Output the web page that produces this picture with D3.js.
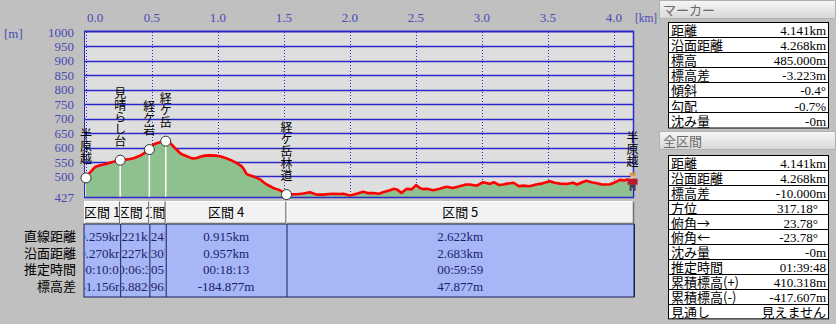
<!DOCTYPE html>
<html>
<head>
<meta charset="utf-8">
<script src="https://cdn.jsdelivr.net/npm/d3@7"></script>
<style>
  html, body { margin: 0; padding: 0; background: #c0c0c0; }
  svg { display: block; }
</style>
</head>
<body>
<div id="svg"></div>
<script>
// profile (km, m)
const distKm = [0.000, 0.02, 0.04, 0.07, 0.10, 0.15, 0.20, 0.259, 0.30, 0.333, 0.36, 0.384, 0.41, 0.434, 0.477,
    0.51, 0.53, 0.56, 0.604, 0.636, 0.655, 0.674, 0.712, 0.74, 0.763, 0.79, 0.813, 0.84, 0.864, 0.90, 0.94, 0.98,
    1.015, 1.05, 1.09, 1.14, 1.18, 1.20, 1.217, 1.24, 1.267, 1.29, 1.318, 1.345, 1.369, 1.395, 1.419, 1.445, 1.47,
    1.50, 1.519, 1.55, 1.596, 1.646, 1.697, 1.748, 1.798, 1.84, 1.874, 1.92, 1.95, 2.00, 2.05, 2.10, 2.14, 2.177,
    2.22, 2.25, 2.303, 2.33, 2.354, 2.39, 2.43, 2.467, 2.50, 2.53, 2.555, 2.58, 2.63, 2.68, 2.73, 2.78, 2.83, 2.88,
    2.91, 2.96, 3.01, 3.06, 3.09, 3.13, 3.16, 3.19, 3.24, 3.28, 3.31, 3.36, 3.41, 3.46, 3.515, 3.55, 3.59, 3.64,
    3.69, 3.72, 3.76, 3.79, 3.83, 3.87, 3.91, 3.94, 3.97, 4.00, 4.045, 4.08, 4.10, 4.12, 4.141];
const elevM = [495, 508, 518, 533, 538, 543, 550, 556, 558, 560, 563, 567, 572, 578, 593,
    610, 614, 618, 622, 616, 607, 598, 581, 574, 570, 565, 562, 564, 568, 572, 573, 572,
    570, 565, 558, 547, 535, 522, 508, 504, 500, 496, 490, 480, 472, 466, 460, 456, 452,
    444, 437, 438, 438, 441, 445, 437, 437, 439, 440, 439, 440, 434, 440, 447, 442, 442,
    440, 445, 452, 457, 455, 443, 457, 455, 470, 460, 456, 457, 452, 457, 464, 460, 466, 472,
    472, 468, 480, 474, 480, 470, 472, 475, 478, 466, 468, 466, 472, 476, 483, 478, 475, 474,
    478, 472, 480, 485, 480, 476, 472, 472, 473, 478, 488, 486, 489, 487, 485];

// markers
const markerNames = ["半原越", "見晴らし台", "経ケ岩", "経ケ岳", "経ケ岳林道", "半原越"];
const markerKm = [0, 0.259, 0.480, 0.604, 1.519, 4.141];
const markerElev = [495, 556.156, 593.038, 622.0, 437.123, 485.0];

// axes
const xTicks = [0, 0.5, 1.0, 1.5, 2.0, 2.5, 3.0, 3.5, 4.0];
const yTicks = [1000, 950, 900, 850, 800, 750, 700, 650, 600, 550, 500, 427];

// section table
const sectionNames = ["区間 1", "区間 2", "区間 3", "区間 4", "区間 5"];
const rowLabels = ["直線距離", "沿面距離", "推定時間", "標高差"];
const straightDist = ["0.259km", "0.221km", "0.124km", "0.915km", "2.622km"];
const surfaceDist = ["0.270km", "0.227km", "0.130km", "0.957km", "2.683km"];
const estTime = ["00:10:02", "00:06:30", "00:05:04", "00:18:13", "00:59:59"];
const elevDiff = ["61.156m", "36.882m", "28.962m", "-184.877m", "47.877m"];

// side panels
const markerLabels = ["距離", "沿面距離", "標高", "標高差", "傾斜", "勾配", "沈み量"];
const markerValues = ["4.141km", "4.268km", "485.000m", "-3.223m", "-0.4°", "-0.7%", "-0m"];
const totalLabels = ["距離", "沿面距離", "標高差", "方位", "俯角→", "俯角←", "沈み量", "推定時間", "累積標高(+)", "累積標高(-)", "見通し"];
const totalValues = ["4.141km", "4.268km", "-10.000m", "317.18°", "23.78°", "-23.78°", "-0m", "01:39:48", "410.318m", "-417.607m", "見えません"];

const W = 836, H = 324;
const JP = '"Noto Sans CJK JP", sans-serif';
const NUM = '"Liberation Serif", "DejaVu Serif", serif';
const axisColor = '#4a4ab4';
const gridColor = '#2a2ac8';

const svg = d3.select('#svg').append('svg')
    .attr('width', W).attr('height', H)
    .style('background', '#c0c0c0');

const x = d3.scaleLinear().domain([0, 4.141]).range([86, 632.6]);
const y = d3.scaleLinear().domain([427, 1000]).range([197.5, 32]);

// plot background
svg.append('rect')
    .attr('x', 84).attr('y', 31).attr('width', 550).attr('height', 167)
    .attr('fill', '#dedede');

// horizontal grid
svg.append('g').selectAll('line')
    .data(yTicks.filter(d => d !== 427 && d !== 1000))
    .join('line')
    .attr('x1', 84).attr('x2', 634)
    .attr('y1', d => Math.round(y(d)) + 0.5).attr('y2', d => Math.round(y(d)) + 0.5)
    .attr('stroke', gridColor).attr('stroke-width', 1.3);

// vertical dotted grid
svg.append('g').selectAll('line')
    .data(xTicks)
    .join('line')
    .attr('x1', d => Math.round(x(d)) + 0.5).attr('x2', d => Math.round(x(d)) + 0.5)
    .attr('y1', 32).attr('y2', 198)
    .attr('stroke', gridColor).attr('stroke-width', 1)
    .attr('stroke-dasharray', '1,2');

// profile
const profile = distKm.map((d, i) => [d, elevM[i]]);
svg.append('path')
    .datum(profile)
    .attr('fill', '#8fc08f')
    .attr('d', d3.area().x(d => x(d[0])).y0(y(427)).y1(d => y(d[1])));

// marker drop lines
svg.append('g').selectAll('line')
    .data(markerKm.slice(1, 4).map((d, i) => ({ km: d, elev: markerElev[i + 1] })))
    .join('line')
    .attr('x1', d => x(d.km)).attr('x2', d => x(d.km))
    .attr('y1', d => y(d.elev)).attr('y2', 198)
    .attr('stroke', '#fff').attr('stroke-width', 1.5);

svg.append('path')
    .datum(profile)
    .attr('fill', 'none')
    .attr('stroke', '#ff0000')
    .attr('stroke-width', 2.6)
    .attr('stroke-linejoin', 'round')
    .attr('d', d3.line().x(d => x(d[0])).y(d => y(d[1])));

// frame
svg.append('line').attr('x1', 84).attr('x2', 634).attr('y1', 31.5).attr('y2', 31.5)
    .attr('stroke', gridColor).attr('stroke-width', 2);
svg.append('line').attr('x1', 84).attr('x2', 634).attr('y1', 197.5).attr('y2', 197.5)
    .attr('stroke', gridColor).attr('stroke-width', 1.5);
svg.append('line').attr('x1', 84.5).attr('x2', 84.5).attr('y1', 31).attr('y2', 198)
    .attr('stroke', gridColor).attr('stroke-width', 1);
svg.append('line').attr('x1', 633.5).attr('x2', 633.5).attr('y1', 31).attr('y2', 198)
    .attr('stroke', gridColor).attr('stroke-width', 1.5);

// axis labels
svg.append('g').selectAll('text')
    .data(xTicks)
    .join('text')
    .attr('x', (d, i) => i === 0 ? x(d) + 1 : x(d))
    .attr('y', 17)
    .attr('dy', '0.35em')
    .attr('text-anchor', (d, i) => i === 0 ? 'start' : 'middle')
    .attr('font-family', NUM).attr('font-size', 13)
    .attr('fill', axisColor)
    .text(d => d.toFixed(1));
svg.append('text').attr('x', 635).attr('y', 17).attr('dy', '0.35em')
    .attr('textLength', 22).attr('lengthAdjust', 'spacingAndGlyphs')
    .attr('font-family', NUM).attr('font-size', 13).attr('fill', axisColor).text('[km]');

svg.append('g').selectAll('text')
    .data(yTicks)
    .join('text')
    .attr('x', 74)
    .attr('y', d => y(d))
    .attr('dy', '0.35em')
    .attr('text-anchor', 'end')
    .attr('font-family', NUM).attr('font-size', 13)
    .attr('fill', axisColor)
    .text(d => d);
svg.append('text').attr('x', 4).attr('y', 33).attr('dy', '0.35em')
    .attr('font-family', NUM).attr('font-size', 13).attr('fill', axisColor).text('[m]');

// markers
const markers = markerNames.map((name, i) => ({ name, km: markerKm[i], elev: markerElev[i], last: i === markerNames.length - 1 }));

svg.append('g').selectAll('circle')
    .data(markers.filter(d => !d.last))
    .join('circle')
    .attr('cx', d => x(d.km)).attr('cy', d => y(d.elev))
    .attr('r', 5)
    .attr('fill', '#fff').attr('stroke', '#333').attr('stroke-width', 1);

// hiker at the end
const hiker = svg.append('g').attr('transform', `translate(${x(4.141)},${y(485) + 1})`);
hiker.append('rect').attr('x', -3).attr('y', -9).attr('width', 6).attr('height', 3).attr('fill', '#d89a3a');
hiker.append('rect').attr('x', -2).attr('y', -6).attr('width', 4).attr('height', 3).attr('fill', '#f0c090');
hiker.append('rect').attr('x', -5).attr('y', -3).attr('width', 10).attr('height', 6).attr('fill', '#b81c2c');
hiker.append('rect').attr('x', -3).attr('y', 3).attr('width', 6).attr('height', 3).attr('fill', '#3c3c54');
hiker.append('rect').attr('x', -3).attr('y', 6).attr('width', 2).attr('height', 3).attr('fill', '#3c3c54');
hiker.append('rect').attr('x', 1).attr('y', 6).attr('width', 2).attr('height', 3).attr('fill', '#3c3c54');

// vertical labels (one text per marker, written top to bottom)
svg.append('g').selectAll('text')
    .data(markers)
    .join('text')
    .attr('x', d => x(d.km))
    .attr('y', d => y(d.elev) - 13)
    .attr('text-anchor', 'end')
    .style('writing-mode', 'vertical-rl')
    .style('text-orientation', 'upright')
    .attr('font-family', JP).attr('font-size', 12)
    .attr('fill', '#000')
    .text(d => d.name);

// section table
const bounds = markerKm;
const cols = sectionNames.map((name, i) => ({
    name, x0: i === 0 ? 84 : x(bounds[i]), x1: i === sectionNames.length - 1 ? 634 : x(bounds[i + 1]), i
}));
const tableTop = 201, headerH = 23, tableBottom = 297;
const rowY = [236, 253, 269.5, 286];
const rowsData = [straightDist, surfaceDist, estTime, elevDiff];

const defs = svg.append('defs');
cols.forEach(c => {
    defs.append('clipPath').attr('id', 'col' + c.i)
        .append('rect').attr('x', c.x0 + 1).attr('y', tableTop).attr('width', c.x1 - c.x0 - 2).attr('height', tableBottom - tableTop);
});

svg.append('rect')
    .attr('x', 84).attr('y', tableTop + headerH).attr('width', 550).attr('height', tableBottom - tableTop - headerH)
    .attr('fill', '#a6b6f6').attr('stroke', '#1c1c5c').attr('stroke-width', 1);

const colG = svg.append('g').selectAll('g')
    .data(cols)
    .join('g');

colG.append('rect')
    .attr('x', d => d.x0 + 0.5).attr('y', tableTop + 0.5)
    .attr('width', d => d.x1 - d.x0 - 1).attr('height', headerH - 1)
    .attr('fill', '#f2f2f2').attr('stroke', '#ffffff');
colG.append('path')
    .attr('d', d => `M${d.x0 + 0.5},${tableTop + headerH - 0.5}H${d.x1 - 0.5}V${tableTop + 0.5}`)
    .attr('fill', 'none').attr('stroke', '#707070').attr('stroke-width', 1.5);

colG.append('line')
    .attr('x1', d => d.x1 + 0.5).attr('x2', d => d.x1 + 0.5)
    .attr('y1', tableTop + headerH).attr('y2', tableBottom)
    .attr('stroke', '#1c1c5c').attr('stroke-width', 1);

colG.append('text')
    .attr('clip-path', d => `url(#col${d.i})`)
    .attr('x', d => (d.x0 + d.x1) / 2).attr('y', tableTop + headerH / 2)
    .attr('dy', '0.36em').attr('text-anchor', 'middle')
    .attr('font-family', JP).attr('font-size', 13).attr('fill', '#000')
    .text(d => d.name);

rowsData.forEach((vals, r) => {
    colG.append('text')
        .attr('clip-path', d => `url(#col${d.i})`)
        .attr('x', d => (d.x0 + d.x1) / 2).attr('y', rowY[r])
        .attr('dy', '0.35em').attr('text-anchor', 'middle')
        .attr('font-family', NUM).attr('font-size', 13).attr('fill', '#1c1c6c')
        .text(d => vals[d.i]);
});

svg.append('g').selectAll('text')
    .data(rowLabels)
    .join('text')
    .attr('x', 76).attr('y', (d, i) => rowY[i])
    .attr('dy', '0.36em').attr('text-anchor', 'end')
    .attr('font-family', JP).attr('font-size', 13).attr('fill', '#000')
    .text(d => d);

// side panels
const grad = defs.append('linearGradient').attr('id', 'hdr').attr('x1', 0).attr('x2', 0).attr('y1', 0).attr('y2', 1);
grad.append('stop').attr('offset', '0%').attr('stop-color', '#f6f6f6');
grad.append('stop').attr('offset', '100%').attr('stop-color', '#d8d8d8');

function panel(title, top, labels, values, boxTop, rowH, padIdx) {
    svg.append('rect').attr('x', 659.5).attr('y', top + 0.5).attr('width', 176).attr('height', 18)
        .attr('fill', 'url(#hdr)').attr('stroke', '#b0b0b0');
    svg.append('text').attr('x', 663).attr('y', top + 10).attr('dy', '0.36em')
        .attr('font-family', JP).attr('font-size', 13).attr('fill', '#6a6a6a').text(title);

    const g = svg.append('g');
    g.append('rect').attr('x', 668.5).attr('y', boxTop + 0.5)
        .attr('width', 160).attr('height', rowH * labels.length)
        .attr('fill', '#fff').attr('stroke', '#000');
    g.selectAll('line')
        .data(labels.slice(1))
        .join('line')
        .attr('x1', 668.5).attr('x2', 828.5)
        .attr('y1', (d, i) => Math.round(boxTop + rowH * (i + 1)) + 0.5)
        .attr('y2', (d, i) => Math.round(boxTop + rowH * (i + 1)) + 0.5)
        .attr('stroke', '#000');
    g.selectAll('text.lab')
        .data(labels)
        .join('text')
        .attr('class', 'lab')
        .attr('x', 671).attr('y', (d, i) => boxTop + rowH * (i + 0.5) + 1)
        .attr('dy', '0.36em')
        .attr('font-family', JP).attr('font-size', 13).attr('fill', '#000')
        .text(d => d);
    g.selectAll('text.val')
        .data(values)
        .join('text')
        .attr('class', 'val')
        .attr('x', (d, i) => padIdx.includes(i) ? 818 : 826)
        .attr('y', (d, i) => boxTop + rowH * (i + 0.5) + 1)
        .attr('dy', '0.36em').attr('text-anchor', 'end')
        .attr('font-family', d => /[ぁ-ん]/.test(d) ? JP : NUM).attr('font-size', 13).attr('fill', '#000')
        .text(d => d);
}

panel('マーカー', 0, markerLabels, markerValues, 22, 15.07, []);
panel('全区間', 131, totalLabels, totalValues, 155, 14.85, [3, 4, 5]);
</script>
</body>
</html>
